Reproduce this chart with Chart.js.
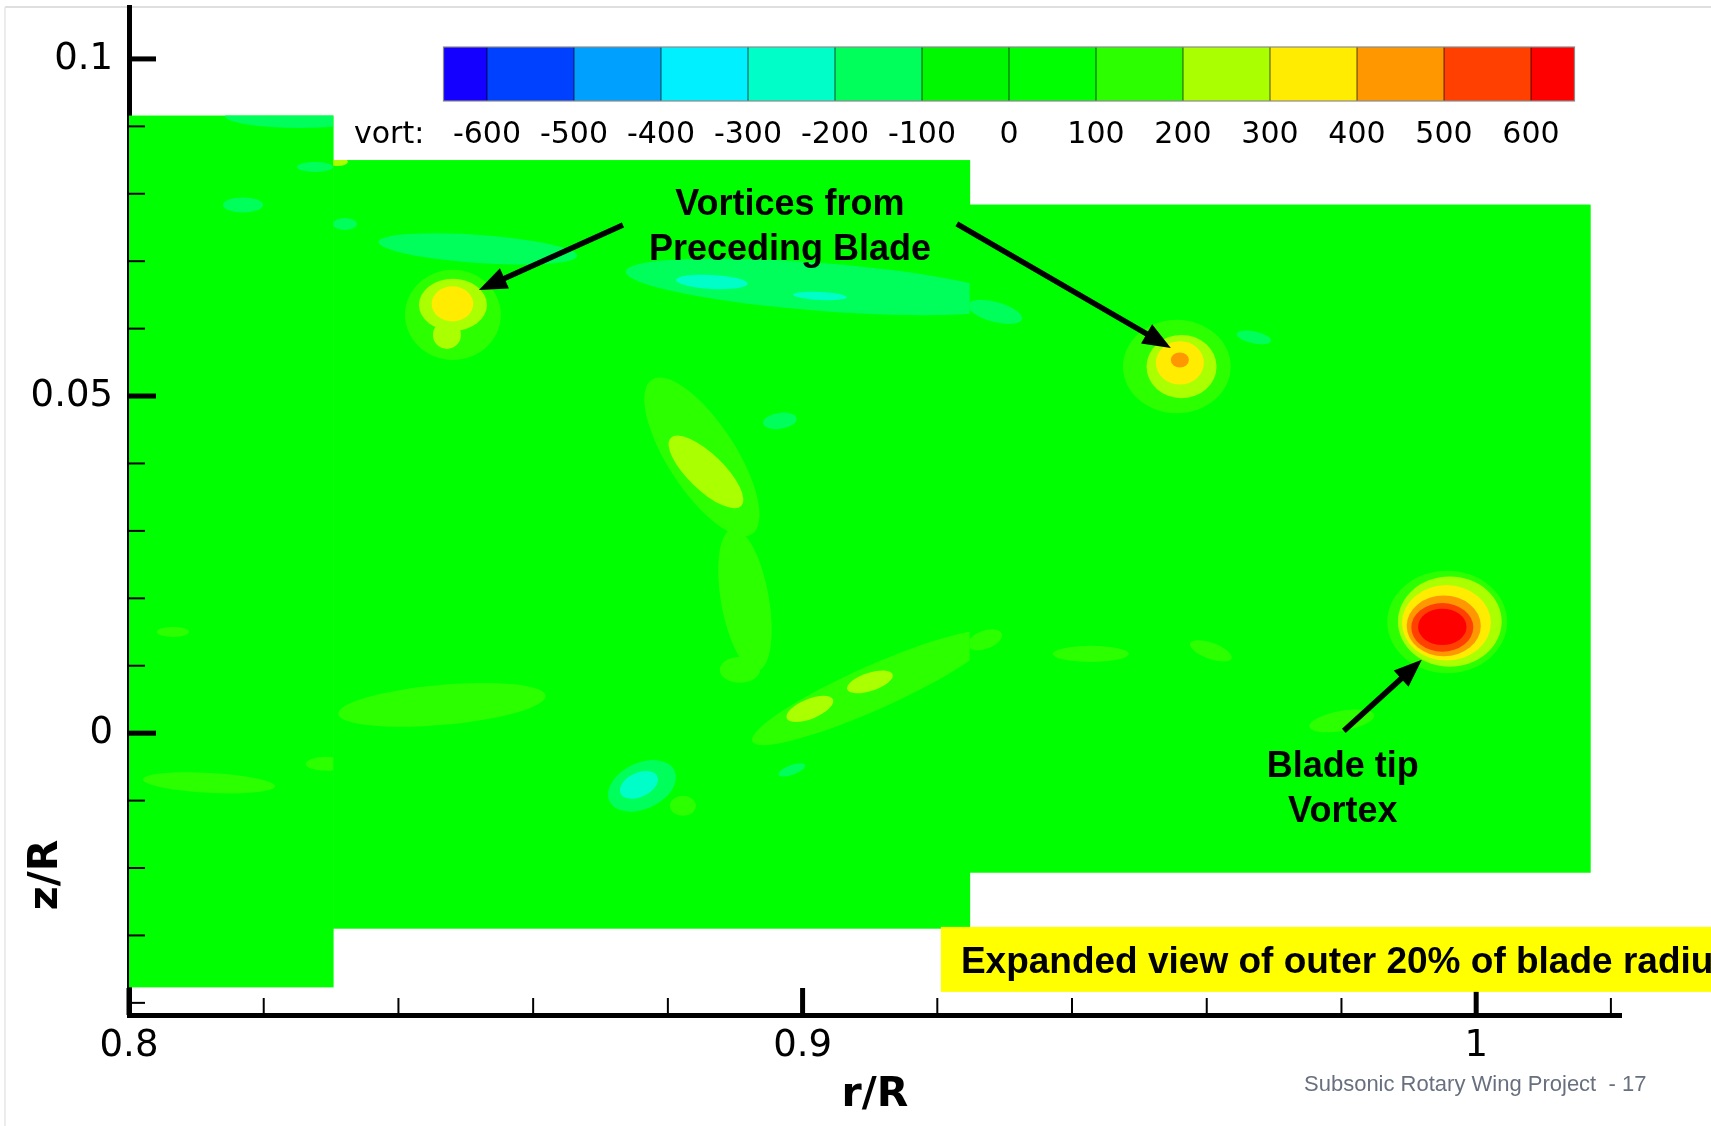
<!DOCTYPE html>
<html><head><meta charset="utf-8">
<script src="https://cdn.jsdelivr.net/npm/chart.js@4.4.1/dist/chart.umd.min.js"></script>
<style>html,body{margin:0;padding:0;background:#fff;overflow:hidden}#wrap{width:1711px;height:1126px;position:relative}</style>
</head><body><div id="wrap"><canvas id="c"></canvas></div>
<script>
// ---- axis ticks ----
const xMajorTicks = [0.8, 0.9, 1.0];
const xMinorTicks = [0.82, 0.84, 0.86, 0.88, 0.92, 0.94, 0.96, 0.98, 1.02];
const yMajorTicks = [0, 0.05, 0.1];
const yMinorTicks = [-0.04, -0.03, -0.02, -0.01, 0.01, 0.02, 0.03, 0.04, 0.06, 0.07, 0.08, 0.09];

// ---- colour legend (vorticity levels) ----
const vortLevels = [-600, -500, -400, -300, -200, -100, 0, 100, 200, 300, 400, 500, 600];
const vortColors = ['#1400ff', '#0040ff', '#00a0ff', '#00f0ff', '#00ffc8', '#00ff5a', '#00f800',
                    '#00ff00', '#2cff00', '#aaff00', '#ffec00', '#ff9800', '#ff4000', '#ff0000'];
const backgroundVort = 50;

// ---- PIV measurement windows (r/R, z/R) ----
const windowRMin = [0.8, 0.8303, 0.9248];
const windowRMax = [0.8303, 0.9248, 1.0170];
const windowZMin = [-0.0377, -0.0290, -0.0207];
const windowZMax = [0.0916, 0.0850, 0.0784];

// ---- vorticity contour patches (centre r/R, centre z/R, half extents, tilt deg, vort, window) ----
const contourR     = [0.9957, 0.99608, 0.99559, 0.99519, 0.99497, 0.99497,
                      0.84809, 0.84809, 0.8472, 0.84802,
                      0.8518, 0.90257, 0.88654, 0.90257, 0.92854,
                      0.95556, 0.95626, 0.95601, 0.95601, 0.96699,
                      0.88505, 0.89144, 0.88565, 0.89663,
                      0.89069, 0.91044, 0.92706, 0.90108, 0.91, 0.87615, 0.8757, 0.89841, 0.88223,
                      0.84646, 0.81187, 0.82924, 0.80653, 0.94279, 0.96061, 0.98005,
                      0.82538, 0.81692, 0.82761, 0.83206, 0.83102];
const contourZ     = [0.0165, 0.01655, 0.01636, 0.01591, 0.01569, 0.01576,
                      0.06204, 0.06352, 0.05907, 0.06367,
                      0.07182, 0.06619, 0.06693, 0.06484, 0.06248,
                      0.05437, 0.05437, 0.05492, 0.05536, 0.0587,
                      0.04098, 0.01977, 0.03875, 0.04632,
                      0.00939, 0.00672, 0.01384, 0.0036, 0.00761, -0.00782, -0.00767, -0.00544, -0.01078,
                      0.0042, -0.00737, -0.00455, 0.01502, 0.01176, 0.0122, 0.00182,
                      0.09155, 0.07835, 0.08398, 0.07553, 0.08473];
const contourHalfR = [0.0089, 0.0077, 0.0066, 0.0055, 0.0046, 0.0036,
                      0.00712, 0.00505, 0.00208, 0.00309,
                      0.0148, 0.02893, 0.00534, 0.004, 0.00416,
                      0.008, 0.0052, 0.00356, 0.00134, 0.0026,
                      0.01366, 0.01069, 0.00727, 0.00252,
                      0.003, 0.01959, 0.00267, 0.00371, 0.00356, 0.00534, 0.003, 0.00208, 0.00193,
                      0.01544, 0.0098, 0.003, 0.00237, 0.00564, 0.00327, 0.0049,
                      0.01113, 0.00297, 0.00267, 0.00178, 0.0015];
const contourHalfZ = [0.0076, 0.0067, 0.0056, 0.0045, 0.0036, 0.0027,
                      0.00668, 0.00386, 0.00208, 0.0026,
                      0.00208, 0.00356, 0.00104, 0.0006, 0.00148,
                      0.00693, 0.0047, 0.00322, 0.00111, 0.00089,
                      0.00504, 0.00356, 0.00267, 0.00119,
                      0.0019, 0.00326, 0.00134, 0.00148, 0.00134, 0.00341, 0.00178, 0.00074, 0.00148,
                      0.00297, 0.00148, 0.00104, 0.00074, 0.00119, 0.00119, 0.00148,
                      0.00178, 0.00111, 0.00074, 0.00089, 0.0006];
const contourTilt  = [0, 0, 0, 0, 0, 0,
                      0, 0, 0, 0,
                      4, 4.5, 3, 3, 15,
                      0, 0, 0, 0, 12,
                      57, 80, 44, -8,
                      0, -24, -20, -22, -18, -25, -25, -20, 0,
                      -5, 3, 0, 0, 0, 20, -10,
                      0, 0, 0, 0, 0];
const contourVort  = [150, 250, 350, 450, 550, 650,
                      150, 250, 250, 350,
                      -150, -150, -250, -250, -150,
                      150, 250, 350, 450, -150,
                      150, 150, 250, -150,
                      150, 150, 150, 250, 250, -150, -250, -150, 150,
                      150, 150, 150, 150, 150, 150, 150,
                      -150, -150, -150, -150, 250];
const contourWindow = [2, 2, 2, 2, 2, 2,
                       1, 1, 1, 1,
                       1, 1, 1, 1, 2,
                       2, 2, 2, 2, 2,
                       1, 1, 1, 1,
                       1, 1, 2, 1, 1, 1, 1, 1, 1,
                       1, 0, 0, 0, 2, 2, 2,
                       0, 0, 0, 1, 1];

// ---- annotations (data coordinates) ----
const noteLines = [['Vortices from', 0.89812, 0.07687], ['Preceding Blade', 0.89812, 0.07019],
                   ['Blade tip', 0.9802, -0.00648], ['Vortex', 0.9802, -0.01315]];
const arrowFromR = [0.87333, 0.9229, 0.98035];
const arrowFromZ = [0.07538, 0.07553, 0.00034];
const arrowToR   = [0.85195, 0.95467, 0.99193];
const arrowToZ   = [0.06574, 0.05714, 0.01087];
const bannerText = 'Expanded view of outer 20% of blade radius';
const bannerR = 0.92053, bannerZTop = -0.02873, bannerZBottom = -0.03837, bannerTextZ = -0.03555;
const footerText = 'Subsonic Rotary Wing Project  - 17';

function colorFor(v) {
  let k = 0;
  while (k < vortLevels.length && v >= vortLevels[k]) k++;
  return vortColors[k];
}

const sketchPlugin = {
  id: 'sketch',
  beforeDraw(chart) {
    const ctx = chart.ctx;
    ctx.save();
    ctx.strokeStyle = '#d4d4d4'; ctx.lineWidth = 1.5;
    ctx.beginPath(); ctx.moveTo(5, 7); ctx.lineTo(1711, 7); ctx.stroke();
    ctx.strokeStyle = '#e6e6e6';
    ctx.beginPath(); ctx.moveTo(5, 7); ctx.lineTo(5, 1126); ctx.stroke();
    ctx.restore();
  },
  beforeDatasetsDraw(chart) {
    const {ctx, scales: {x, y}} = chart;
    const px = v => x.getPixelForValue(v), py = v => y.getPixelForValue(v);
    ctx.save();
    const winRect = w => [px(windowRMin[w]), py(windowZMax[w]), px(windowRMax[w]) - px(windowRMin[w]), py(windowZMin[w]) - py(windowZMax[w])];
    for (let w = 0; w < windowRMin.length; w++) {
      ctx.fillStyle = colorFor(backgroundVort);
      const r = winRect(w);
      ctx.fillRect(r[0], r[1], r[2] + (w < windowRMin.length - 1 ? 0.5 : 0), r[3]);
    }
    const order = contourVort.map((v, i) => i).sort((a, b) => Math.abs(contourVort[a]) - Math.abs(contourVort[b]));
    for (const i of order) {
      ctx.save();
      const r = winRect(contourWindow[i]);
      ctx.beginPath(); ctx.rect(r[0], r[1], r[2], r[3]); ctx.clip();
      const cx = px(contourR[i]), cy = py(contourZ[i]);
      const rx = Math.abs(px(contourR[i] + contourHalfR[i]) - cx);
      const ry = Math.abs(py(contourZ[i] + contourHalfZ[i]) - cy);
      ctx.beginPath();
      ctx.ellipse(cx, cy, rx, ry, contourTilt[i] * Math.PI / 180, 0, Math.PI * 2);
      ctx.fillStyle = colorFor(contourVort[i]);
      ctx.fill();
      ctx.restore();
    }
    ctx.restore();
  },
  afterDraw(chart) {
    const {ctx, chartArea: ca, scales: {x, y}} = chart;
    const px = v => x.getPixelForValue(v), py = v => y.getPixelForValue(v);
    ctx.save();
    // inward tick marks
    ctx.strokeStyle = '#000';
    ctx.lineCap = 'butt';
    ctx.lineWidth = 5;
    xMajorTicks.forEach(v => { const p = px(v); ctx.beginPath(); ctx.moveTo(p, ca.bottom); ctx.lineTo(p, ca.bottom - 27); ctx.stroke(); });
    yMajorTicks.forEach(v => { const p = py(v); ctx.beginPath(); ctx.moveTo(ca.left, p); ctx.lineTo(ca.left + 27, p); ctx.stroke(); });
    ctx.lineWidth = 2;
    xMinorTicks.forEach(v => { const p = px(v); ctx.beginPath(); ctx.moveTo(p, ca.bottom); ctx.lineTo(p, ca.bottom - 17); ctx.stroke(); });
    yMinorTicks.forEach(v => { const p = py(v); ctx.beginPath(); ctx.moveTo(ca.left, p); ctx.lineTo(ca.left + 16, p); ctx.stroke(); });

    // colour bar legend
    const cbL = 443.5, cbR = 1574.5, cbT = 47, cbB = 101;
    const vmin = vortLevels[0] - 50, vmax = vortLevels[vortLevels.length - 1] + 50;
    const cbX = v => cbL + (v - vmin) / (vmax - vmin) * (cbR - cbL);
    const edges = [vmin].concat(vortLevels, [vmax]);
    for (let k = 0; k < vortColors.length; k++) {
      ctx.fillStyle = vortColors[k];
      ctx.fillRect(cbX(edges[k]), cbT, cbX(edges[k + 1]) - cbX(edges[k]) + 0.5, cbB - cbT);
    }
    ctx.strokeStyle = 'rgba(0,0,0,0.45)'; ctx.lineWidth = 1.5;
    vortLevels.forEach(v => { const p = cbX(v); ctx.beginPath(); ctx.moveTo(p, cbT); ctx.lineTo(p, cbB); ctx.stroke(); });
    ctx.strokeStyle = '#8a8a8a'; ctx.lineWidth = 1.2;
    ctx.strokeRect(cbL, cbT, cbR - cbL, cbB - cbT);
    ctx.fillStyle = '#000';
    ctx.font = '30px "DejaVu Sans"';
    ctx.textBaseline = 'middle';
    ctx.textAlign = 'left';
    ctx.fillText('vort:', 354, 135);
    ctx.textAlign = 'center';
    vortLevels.forEach(v => ctx.fillText(String(v), cbX(v), 135));

    // annotation text
    ctx.font = 'bold 36px "Liberation Sans", Arial, sans-serif';
    ctx.textBaseline = 'alphabetic';
    ctx.textAlign = 'center';
    noteLines.forEach(n => ctx.fillText(n[0], px(n[1]), py(n[2])));

    // arrows
    ctx.strokeStyle = '#000'; ctx.fillStyle = '#000'; ctx.lineWidth = 5.5;
    for (let i = 0; i < arrowFromR.length; i++) {
      const x0 = px(arrowFromR[i]), y0 = py(arrowFromZ[i]);
      const x1 = px(arrowToR[i]), y1 = py(arrowToZ[i]);
      const a = Math.atan2(y1 - y0, x1 - x0);
      const hl = 28, hw = 11;
      const bx = x1 - hl * Math.cos(a), by = y1 - hl * Math.sin(a);
      ctx.beginPath(); ctx.moveTo(x0, y0); ctx.lineTo(bx + 2 * Math.cos(a), by + 2 * Math.sin(a)); ctx.stroke();
      ctx.beginPath();
      ctx.moveTo(x1, y1);
      ctx.lineTo(bx + hw * Math.sin(a), by - hw * Math.cos(a));
      ctx.lineTo(bx - hw * Math.sin(a), by + hw * Math.cos(a));
      ctx.closePath(); ctx.fill();
    }

    // yellow banner
    const bx0 = px(bannerR), byT = py(bannerZTop), byB = py(bannerZBottom);
    ctx.fillStyle = '#ffff00';
    ctx.fillRect(bx0, byT, chart.width - bx0 + 5, byB - byT);
    ctx.fillStyle = '#000';
    ctx.font = 'bold 37px "Liberation Sans", Arial, sans-serif';
    ctx.textAlign = 'left';
    ctx.fillText(bannerText, bx0 + 20, py(bannerTextZ));

    // z/R axis title
    ctx.save();
    ctx.translate(46, 875);
    ctx.rotate(-Math.PI / 2);
    ctx.font = 'bold 41px "DejaVu Sans"';
    ctx.textAlign = 'center'; ctx.textBaseline = 'middle';
    ctx.fillText('z/R', 0, 0);
    ctx.restore();

    // footer
    ctx.fillStyle = '#68707f';
    ctx.font = '22px "Liberation Sans", Arial, sans-serif';
    ctx.textAlign = 'left';
    ctx.fillText(footerText, 1304, 1091);
    ctx.restore();
  }
};

const tickFont = {family: 'DejaVu Sans', size: 37};
new Chart(document.getElementById('c'), {
  type: 'scatter',
  data: {datasets: []},
  options: {
    responsive: true, maintainAspectRatio: false, animation: false, devicePixelRatio: 1,
    layout: {padding: {top: 7, right: 90, bottom: 0, left: 0}},
    plugins: {legend: {display: false}, tooltip: {enabled: false}},
    scales: {
      x: {
        type: 'linear', min: 0.8, max: 1.0215, z: 1,
        grid: {display: false, drawTicks: false},
        border: {display: true, color: '#000', width: 5},
        afterBuildTicks: s => { s.ticks = xMajorTicks.map(v => ({value: v})); },
        ticks: {autoSkip: false, maxRotation: 0, padding: 9, color: '#000', font: tickFont,
                callback: v => String(+Number(v).toFixed(2))},
        title: {display: true, text: 'r/R', color: '#000', font: {family: 'DejaVu Sans', size: 41, weight: 'bold'},
                padding: {top: 0, bottom: 6}},
        afterFit: s => { s.height = 111; s.paddingLeft = 0; s.paddingRight = 0; s.paddingTop = 0; s.paddingBottom = 0; }
      },
      y: {
        type: 'linear', min: -0.0418, max: 0.1077, z: 1,
        grid: {display: false, drawTicks: false},
        border: {display: true, color: '#000', width: 5},
        afterBuildTicks: s => { s.ticks = yMajorTicks.map(v => ({value: v})); },
        ticks: {autoSkip: false, padding: 16, color: '#000', font: tickFont,
                callback: v => String(+Number(v).toFixed(3))},
        afterFit: s => { s.width = 129; s.paddingLeft = 0; s.paddingRight = 0; s.paddingTop = 0; s.paddingBottom = 0; }
      }
    }
  },
  plugins: [sketchPlugin]
});
</script>
</body></html>
